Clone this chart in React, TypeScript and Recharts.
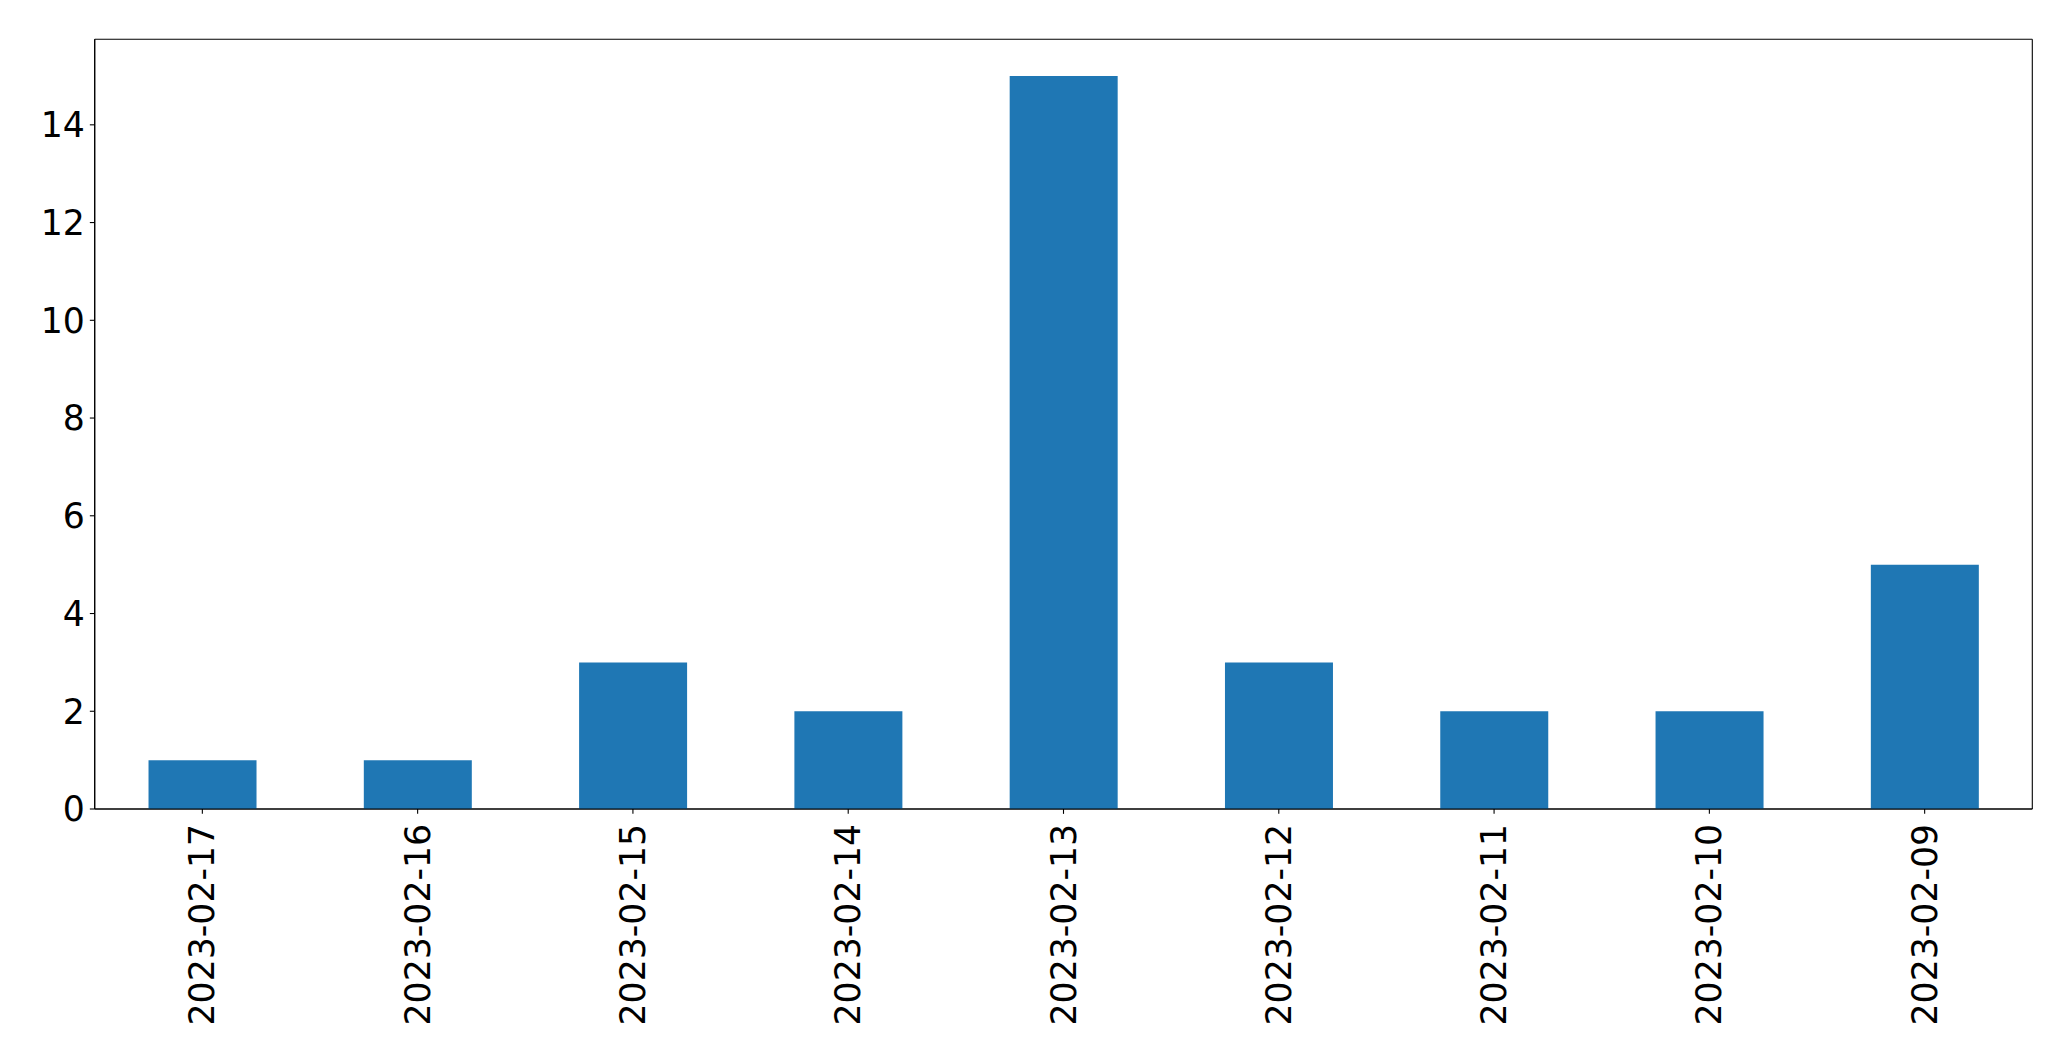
import React from 'react';
import { BarChart, Bar, XAxis, YAxis, CartesianGrid } from 'recharts';

const dates = ['2023-02-17', '2023-02-16', '2023-02-15', '2023-02-14', '2023-02-13', '2023-02-12', '2023-02-11', '2023-02-10', '2023-02-09'];
const counts = [1, 1, 3, 2, 15, 3, 2, 2, 5];
const yTicks = [0, 2, 4, 6, 8, 10, 12, 14];

const data = dates.map((d, i) => ({ date: d, count: counts[i] }));

const FONT = 'DejaVu Sans, sans-serif';
const FS = 34.7;

const XTick = (props: any) => {
  const { x, y, payload } = props;
  return (
    <g transform={`translate(${x},${y})`}>
      <text
        transform="rotate(-90)"
        textAnchor="end"
        dominantBaseline="central"
        fontFamily={FONT}
        fontSize={FS}
        fill="#000"
      >
        {payload.value}
      </text>
    </g>
  );
};

const hGen = (p: any) => {
  const o = p.offset;
  return [o.top, o.top + o.height];
};
const vGen = (p: any) => {
  const o = p.offset;
  return [o.left, o.left + o.width];
};

export default function App() {
  return (
    <div style={{ position: 'absolute', left: 0, top: 0, width: 2071, height: 1061, background: '#fff' }}>
      <BarChart
        width={2071}
        height={1061}
        data={data}
        margin={{ top: 39.3, right: 38.7, bottom: 0, left: 0 }}
        barCategoryGap="25%"
      >
        <CartesianGrid
          stroke="#000"
          strokeWidth={1.1}
          horizontalCoordinatesGenerator={hGen}
          verticalCoordinatesGenerator={vGen}
        />
        <XAxis
          dataKey="date"
          interval={0}
          height={252}
          stroke="#000"
          tickSize={4.86}
          tickMargin={10}
          tick={<XTick />}
          axisLine={{ stroke: '#000', strokeWidth: 1.1 }}
          tickLine={{ stroke: '#000', strokeWidth: 1.1 }}
        />
        <YAxis
          width={94.7}
          domain={[0, 15.75]}
          ticks={yTicks}
          stroke="#000"
          tickSize={4.86}
          tickMargin={5}
          allowDataOverflow
          tick={{ fontFamily: FONT, fontSize: FS, fill: '#000' }}
          axisLine={{ stroke: '#000', strokeWidth: 1.1 }}
          tickLine={{ stroke: '#000', strokeWidth: 1.1 }}
        />
        <Bar dataKey="count" fill="#1f77b4" isAnimationActive={false} />
      </BarChart>
    </div>
  );
}
